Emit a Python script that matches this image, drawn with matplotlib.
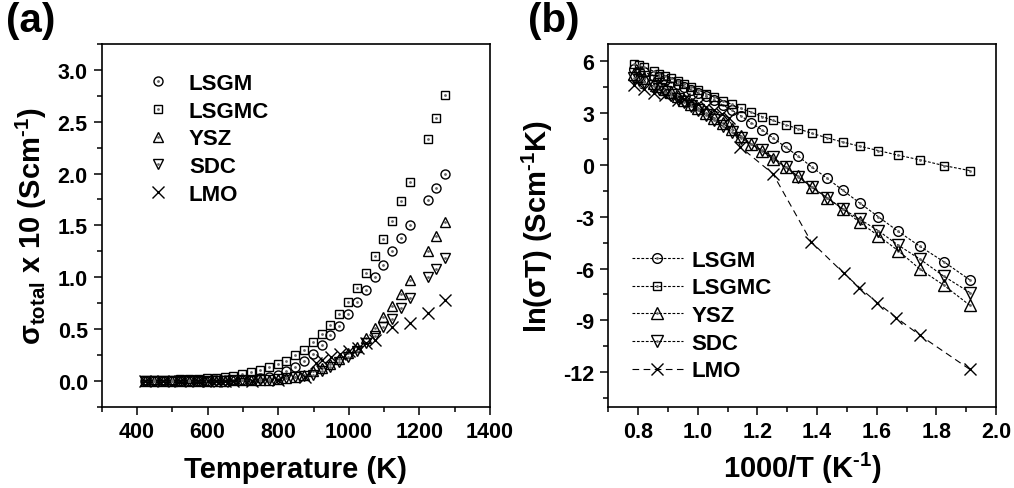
import matplotlib
matplotlib.use('Agg')
import matplotlib.pyplot as plt
from matplotlib.ticker import MultipleLocator

plt.rcParams['font.family'] = ['Liberation Sans', 'DejaVu Sans']
plt.rcParams['font.weight'] = 'bold'
plt.rcParams['mathtext.fontset'] = 'custom'
plt.rcParams['mathtext.rm'] = 'Liberation Sans:bold'
plt.rcParams['mathtext.it'] = 'Liberation Sans:bold'
plt.rcParams['mathtext.bf'] = 'Liberation Sans:bold'
plt.rcParams['mathtext.default'] = 'regular'
plt.rcParams['axes.unicode_minus'] = False

names = ['LSGM', 'LSGMC', 'YSZ', 'SDC', 'LMO']

# (a) total conductivity x 10 vs temperature
temp_a = [423, 448, 473, 498, 523, 548, 573, 598, 623, 648, 673, 698, 723, 748,
          773, 798, 823, 848, 873, 898, 923, 948, 973, 998, 1023, 1048, 1073,
          1098, 1123, 1148, 1173, 1223, 1248, 1273]
lsgm_a = [0.0, 0.0, 0.0, 0.0, 0.0, 0.001, 0.001, 0.002, 0.003, 0.004, 0.006, 0.008,
          0.012, 0.022, 0.036, 0.059, 0.092, 0.135, 0.19, 0.26, 0.345, 0.44, 0.53,
          0.64, 0.76, 0.88, 1.00, 1.12, 1.25, 1.38, 1.50, 1.74, 1.86, 2.00]
lsgmc_a = [0.005, 0.007, 0.009, 0.011, 0.014, 0.017, 0.02, 0.025, 0.03, 0.04, 0.05,
           0.065, 0.08, 0.10, 0.13, 0.16, 0.19, 0.25, 0.30, 0.37, 0.45, 0.54, 0.64,
           0.76, 0.90, 1.04, 1.20, 1.37, 1.54, 1.73, 1.92, 2.33, 2.54, 2.76]
ysz_a = [0.0, 0.0, 0.0, 0.0, 0.0, 0.0, 0.0, 0.001, 0.001, 0.002, 0.003, 0.004,
         0.005, 0.008, 0.012, 0.018, 0.027, 0.04, 0.06, 0.09, 0.12, 0.16, 0.21,
         0.27, 0.33, 0.41, 0.51, 0.62, 0.72, 0.84, 0.975, 1.25, 1.40, 1.53]
sdc_a = [0.0, 0.0, 0.0, 0.0, 0.0, 0.0, 0.0, 0.001, 0.001, 0.002, 0.003, 0.004,
         0.005, 0.008, 0.012, 0.018, 0.025, 0.035, 0.045, 0.06, 0.09, 0.13, 0.18,
         0.23, 0.29, 0.36, 0.43, 0.52, 0.60, 0.70, 0.80, 1.00, 1.08, 1.18]
temp_lmo_a = [423, 473, 523, 573, 600, 625, 648, 672, 725, 799, 875, 906, 925,
              950, 975, 1000, 1025, 1050, 1073, 1123, 1173, 1223, 1273]
lmo_a = [0.0, 0.0, 0.0, 0.0, 0.0, 0.0, 0.0, 0.0, 0.001, 0.008, 0.032, 0.17,
         0.20, 0.23, 0.26, 0.29, 0.32, 0.36, 0.39, 0.52, 0.56, 0.65, 0.78]

# (b) Arrhenius plot
inv_t_b = [1.912, 1.825, 1.745, 1.672, 1.605, 1.543, 1.486, 1.433, 1.383, 1.337,
           1.294, 1.253, 1.215, 1.179, 1.145, 1.114, 1.083, 1.055, 1.028, 1.002,
           0.978, 0.954, 0.932, 0.911, 0.890, 0.871, 0.853, 0.818, 0.801, 0.786]
lsgm_b = [-6.66, -5.61, -4.72, -3.85, -3.00, -2.21, -1.47, -0.77, -0.14, 0.50,
          1.03, 1.55, 2.03, 2.44, 2.83, 3.17, 3.47, 3.74, 3.96, 4.17,
          4.36, 4.53, 4.68, 4.81, 4.94, 5.07, 5.17, 5.36, 5.45, 5.54]
lsgmc_b = [-0.33, -0.04, 0.29, 0.56, 0.83, 1.08, 1.32, 1.57, 1.82, 2.09,
           2.32, 2.57, 2.80, 3.05, 3.27, 3.50, 3.72, 3.94, 4.13, 4.33,
           4.52, 4.69, 4.86, 5.01, 5.15, 5.29, 5.42, 5.65, 5.76, 5.86]
ysz_b = [-8.13, -6.97, -6.04, -4.97, -4.10, -3.33, -2.55, -1.90, -1.30, -0.66,
         -0.14, 0.36, 0.80, 1.22, 1.66, 2.09, 2.40, 2.72, 3.02, 3.29,
         3.52, 3.76, 4.00, 4.22, 4.40, 4.57, 4.74, 5.03, 5.17, 5.27]
sdc_b = [-7.39, -6.45, -5.46, -4.65, -3.81, -3.15, -2.55, -1.90, -1.30, -0.70,
         -0.13, 0.45, 0.85, 1.20, 1.55, 1.90, 2.25, 2.60, 2.90, 3.15,
         3.40, 3.63, 3.83, 4.05, 4.21, 4.39, 4.54, 4.81, 4.91, 5.01]
inv_t_lmo_b = [1.912, 1.745, 1.665, 1.601, 1.542, 1.489, 1.380, 1.252, 1.143,
               1.104, 1.081, 1.053, 1.026, 1.000, 0.976, 0.952, 0.932, 0.890,
               0.853, 0.818, 0.786]
lmo_b = [-11.84, -9.87, -8.84, -7.97, -7.10, -6.27, -4.45, -0.52, 1.03,
         2.71, 2.95, 3.15, 3.35, 3.50, 3.68, 3.82, 3.73, 4.07,
         4.19, 4.38, 4.60]

markers = {'LSGM': ('o', 6.5), 'LSGMC': ('s', 5.8), 'YSZ': ('^', 7.5),
           'SDC': ('v', 7.5), 'LMO': ('x', 8)}

fig = plt.figure(figsize=(10.14, 4.89), dpi=100)
ax_a = fig.add_axes([0.1003, 0.1663, 0.383, 0.7417])
ax_b = fig.add_axes([0.600, 0.1663, 0.3823, 0.7417])

data_a = [(temp_a, lsgm_a), (temp_a, lsgmc_a), (temp_a, ysz_a), (temp_a, sdc_a),
          (temp_lmo_a, lmo_a)]
data_b = [(inv_t_b, lsgm_b), (inv_t_b, lsgmc_b), (inv_t_b, ysz_b), (inv_t_b, sdc_b),
          (inv_t_lmo_b, lmo_b)]

handles_a = []
handles_b = []
for name, (xa, ya), (xb, yb) in zip(names, data_a, data_b):
    mk, ms = markers[name]
    h1, = ax_a.plot(xa, ya, ls='none', marker=mk, ms=ms, mfc='none',
                    mec='black', mew=1.0)
    ls = (0, (6, 4)) if name == 'LMO' else (0, (2.5, 1.5))
    g1, = ax_b.plot(xb, yb, ls=ls, lw=0.8, color='black', marker=mk, ms=ms + 0.5,
                    mfc='none', mec='black', mew=1.0)
    if mk != 'x':
        h2, = ax_a.plot(xa, ya, ls='none', marker='.', ms=2, color='0.4')
        g2, = ax_b.plot(xb, yb, ls='none', marker='.', ms=2, color='0.4')
        handles_a.append((h1, h2))
        handles_b.append((g1, g2))
    else:
        handles_a.append(h1)
        handles_b.append(g1)

ax_a.set_xlim(300, 1400)
ax_a.set_ylim(-0.25, 3.25)
ax_a.xaxis.set_minor_locator(MultipleLocator(100))
ax_a.yaxis.set_major_locator(MultipleLocator(0.5))
ax_a.yaxis.set_minor_locator(MultipleLocator(0.25))
ax_a.set_xticks([400, 600, 800, 1000, 1200, 1400])
ax_a.set_xlabel('Temperature (K)', fontsize=21, fontweight='bold', labelpad=10)
ax_a.set_ylabel(r'σ$_{total}$ x 10 (Scm$^{\text{-1}}$)', fontsize=21,
                fontweight='bold', labelpad=6)

ax_b.set_xlim(0.7, 2.0)
ax_b.set_ylim(-14, 7)
ax_b.set_xticks([0.8, 1.0, 1.2, 1.4, 1.6, 1.8, 2.0])
ax_b.xaxis.set_minor_locator(MultipleLocator(0.1))
ax_b.set_yticks([6, 3, 0, -3, -6, -9, -12])
ax_b.yaxis.set_minor_locator(MultipleLocator(1.5))
ax_b.set_xlabel(r'1000/T (K$^{\text{-1}}$)', fontsize=21, fontweight='bold',
                labelpad=6)
ax_b.set_ylabel(r'ln(σT) (Scm$^{\text{-1}}$K)', fontsize=21, fontweight='bold',
                labelpad=6)

for ax in (ax_a, ax_b):
    for sp in ax.spines.values():
        sp.set_linewidth(1.2)
    ax.tick_params(which='both', direction='out', top=False, right=False, width=1.1)
    ax.tick_params(which='major', length=6, labelsize=15.5, pad=4)
    ax.tick_params(which='minor', length=3.5)
    for lab in ax.get_xticklabels() + ax.get_yticklabels():
        lab.set_fontweight('bold')

ax_a.legend(handles_a, names, loc='upper left', bbox_to_anchor=(0.11, 0.92),
            frameon=False, handlelength=1.2, handletextpad=0.8,
            labelspacing=0.3, borderpad=0, borderaxespad=0, numpoints=1,
            prop={'weight': 'bold', 'size': 16})
ax_b.legend(handles_b, names, loc='lower left', bbox_to_anchor=(0.06, 0.07),
            frameon=False, handlelength=2.3, handletextpad=0.4,
            labelspacing=0.3, borderpad=0, borderaxespad=0, numpoints=1,
            prop={'weight': 'bold', 'size': 16})

fig.text(0.006, 0.995, '(a)', fontsize=29, fontweight='bold', va='top', ha='left')
fig.text(0.521, 0.995, '(b)', fontsize=29, fontweight='bold', va='top', ha='left')

fig.savefig('out.png', dpi=100)
